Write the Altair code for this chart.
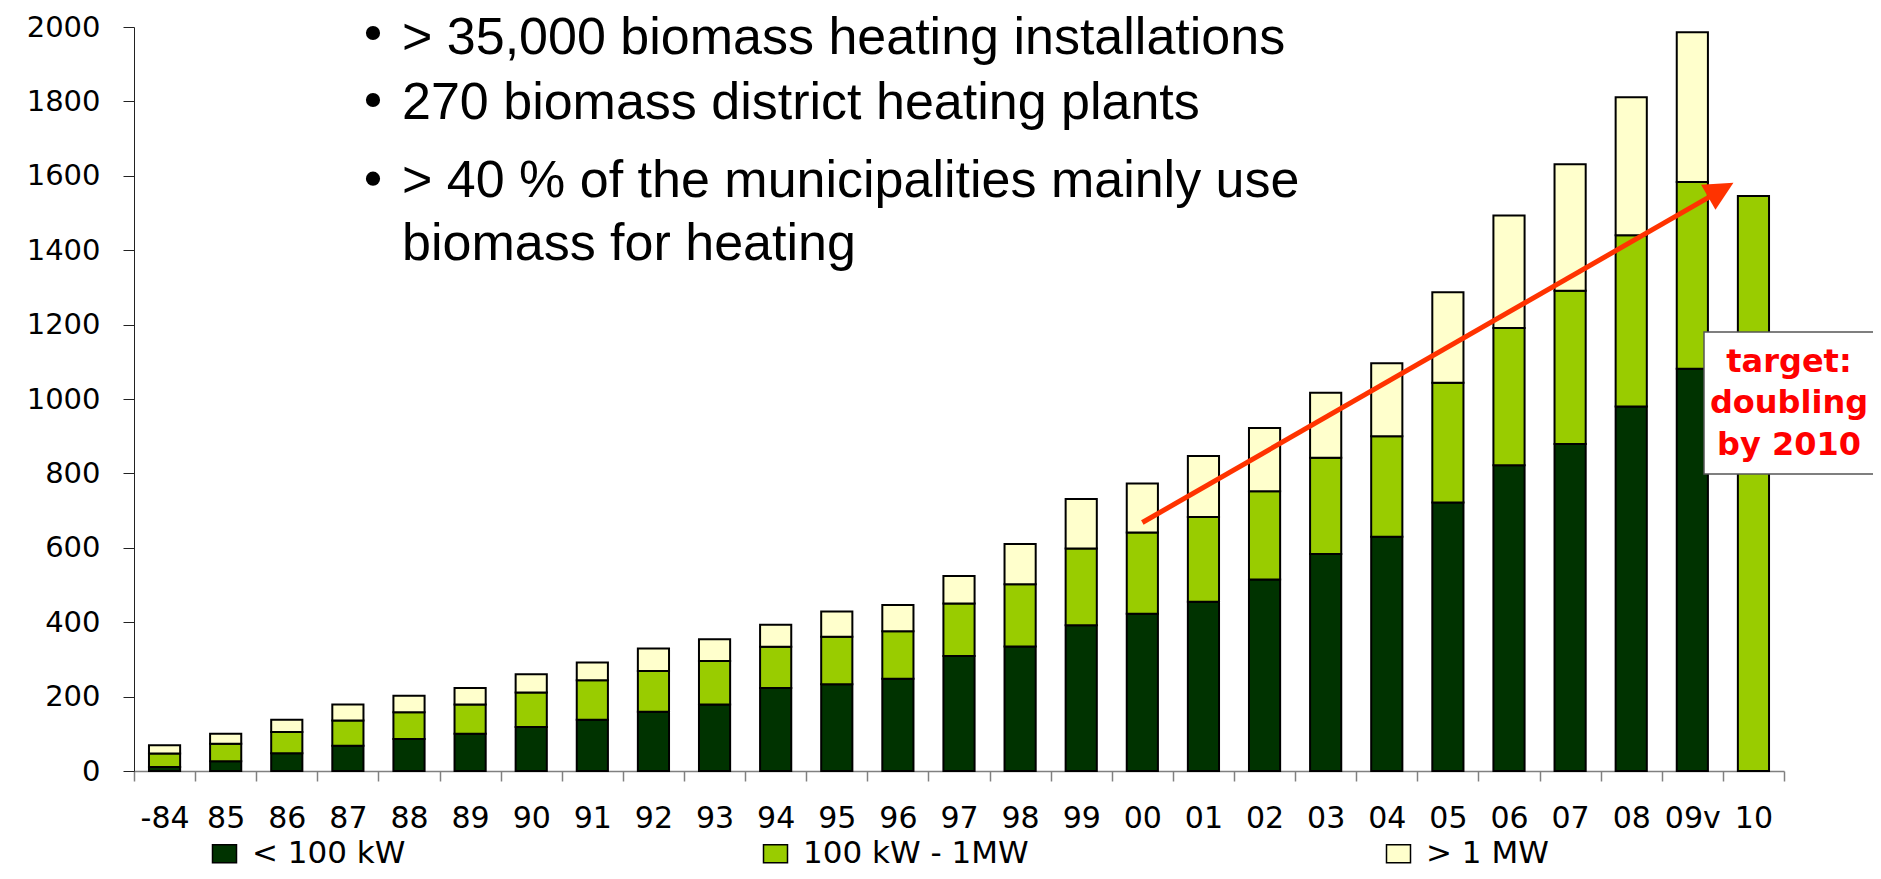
import altair as alt
import pandas as pd

# ---------------- data ----------------
years = ["-84", "85", "86", "87", "88", "89", "90", "91", "92", "93", "94", "95", "96",
         "97", "98", "99", "00", "01", "02", "03", "04", "05", "06", "07", "08", "09v", "10"]
under_100kw = [11, 26, 48, 68, 86, 100, 118, 138, 159, 179, 223, 233, 248,
               309, 335, 392, 423, 455, 515, 583, 630, 722, 822, 879, 980, 1081, 0]
kw100_to_1mw = [36, 47, 57, 68, 72, 79, 93, 106, 110, 117, 111, 128, 128,
                141, 167, 206, 218, 228, 237, 259, 270, 322, 369, 412, 460, 502, 1546]
over_1mw = [22, 27, 33, 43, 44, 44, 49, 48, 60, 58, 59, 68, 70,
            74, 108, 133, 132, 164, 170, 175, 196, 243, 302, 340, 371, 403, 0]
series = ["< 100 kW", "100 kW - 1MW", "> 1 MW"]
colors = ["#003300", "#99cc00", "#ffffcc"]
y_ticks = [0, 200, 400, 600, 800, 1000, 1200, 1400, 1600, 1800, 2000]

bullet_1 = "> 35,000 biomass heating installations"
bullet_2 = "270 biomass district heating plants"
bullet_3 = ["> 40 % of the municipalities mainly use", "biomass for heating"]
target_text = ["target:", "doubling", "by 2010"]

arrow_from_year = ["00"]
arrow_from_value = [668]
arrow_to_year = ["10"]
arrow_to_value = [1581]

# ---------------- tables ----------------
rows = []
for i, yr in enumerate(years):
    for k, vals in enumerate([under_100kw, kw100_to_1mw, over_1mw]):
        if vals[i] > 0:
            rows.append({"year": yr, "series": series[k], "value": vals[i], "order": k})
df = pd.DataFrame(rows)

arrow_df = pd.DataFrame({"x": arrow_from_year, "x2": arrow_to_year,
                         "y": arrow_from_value, "y2": arrow_to_value})
head_df = pd.DataFrame({"x": arrow_to_year, "y": arrow_to_value})
one = pd.DataFrame({"a": [0]})

CHART_FONT = "DejaVu Sans"

bars = alt.Chart(df).mark_bar(
    stroke="black", strokeWidth=2, width=alt.RelativeBandSize(0.51)
).encode(
    x=alt.X("year:N", sort=years,
            scale=alt.Scale(domain=years, paddingInner=0, paddingOuter=0),
            axis=alt.Axis(title=None, tickBand="extent", tickSize=10, tickColor="#808080",
                          tickWidth=1.5, domainColor="#808080", domainWidth=1.5,
                          labelFont=CHART_FONT, labelFontSize=30, labelColor="black",
                          labelPadding=22, labelAngle=0, labelOverlap=False, grid=False)),
    y=alt.Y("value:Q", stack="zero",
            scale=alt.Scale(domain=[0, 2000], nice=False),
            axis=alt.Axis(title=None, values=y_ticks, format="d", tickSize=11,
                          tickColor="#222222", domainColor="#222222",
                          labelFont=CHART_FONT, labelFontSize=29,
                          labelColor="black", labelPadding=23, grid=False)),
    color=alt.Color("series:N", scale=alt.Scale(domain=series, range=colors),
                    legend=alt.Legend(title=None, orient="none", legendX=75, legendY=811,
                                      direction="horizontal", columns=3, columnPadding=354,
                                      symbolType="M-1,-0.75L1,-0.75L1,0.75L-1,0.75Z",
                                      symbolSize=576, symbolStrokeColor="black",
                                      symbolStrokeWidth=1.5, symbolOpacity=1,
                                      labelFont=CHART_FONT, labelFontSize=31,
                                      labelColor="black", labelOffset=12, padding=0,
                                      labelLimit=0)),
    order=alt.Order("order:Q"),
)

arrow = alt.Chart(arrow_df).mark_rule(
    color="#ff3300", strokeWidth=5, x2Offset=-37, y2Offset=10
).encode(
    x=alt.X("x:N", sort=years), x2="x2:N", y="y:Q", y2="y2:Q"
)

head = alt.Chart(head_df).mark_point(
    shape="M0,0L-2,-1L-2,1Z", size=841, filled=True, color="#ff3300",
    opacity=1, angle=330.2, xOffset=-20, strokeWidth=0
).encode(x=alt.X("x:N", sort=years), y="y:Q")

box = alt.Chart(one).mark_rect(fill="white", stroke="#555555", strokeWidth=1.5).encode(
    x=alt.value(1570), x2=alt.value(1800), y=alt.value(305), y2=alt.value(447)
)

target = alt.Chart(one).mark_text(
    text=target_text, font=CHART_FONT, fontWeight="bold", fontSize=32, color="#ff0000",
    align="center", baseline="alphabetic", lineHeight=41.7
).encode(x=alt.value(1655), y=alt.value(344.7))

TXT = dict(font="Liberation Sans", fontSize=52, color="black", align="left",
           baseline="alphabetic")
t1 = alt.Chart(one).mark_text(text=bullet_1, **TXT).encode(x=alt.value(268), y=alt.value(27))
t2 = alt.Chart(one).mark_text(text=bullet_2, **TXT).encode(x=alt.value(268), y=alt.value(92))
t3 = alt.Chart(one).mark_text(text=bullet_3, lineHeight=63.3, **TXT).encode(
    x=alt.value(268), y=alt.value(169.7))

DOT = dict(size=201, color="black", opacity=1)
d1 = alt.Chart(one).mark_circle(**DOT).encode(x=alt.value(239), y=alt.value(6))
d2 = alt.Chart(one).mark_circle(**DOT).encode(x=alt.value(239), y=alt.value(73))
d3 = alt.Chart(one).mark_circle(**DOT).encode(x=alt.value(239), y=alt.value(151.7))

chart = alt.layer(bars, arrow, head, box, target, t1, t2, t3, d1, d2, d3).properties(
    width=1650, height=744,
    autosize=alt.AutoSizeParams(type="none"),
    padding={"left": 126, "top": 19, "right": 89, "bottom": 100},
    background="white",
).configure_view(stroke=None)

chart.save("out.html", embed_options={"renderer": "svg", "actions": False})
